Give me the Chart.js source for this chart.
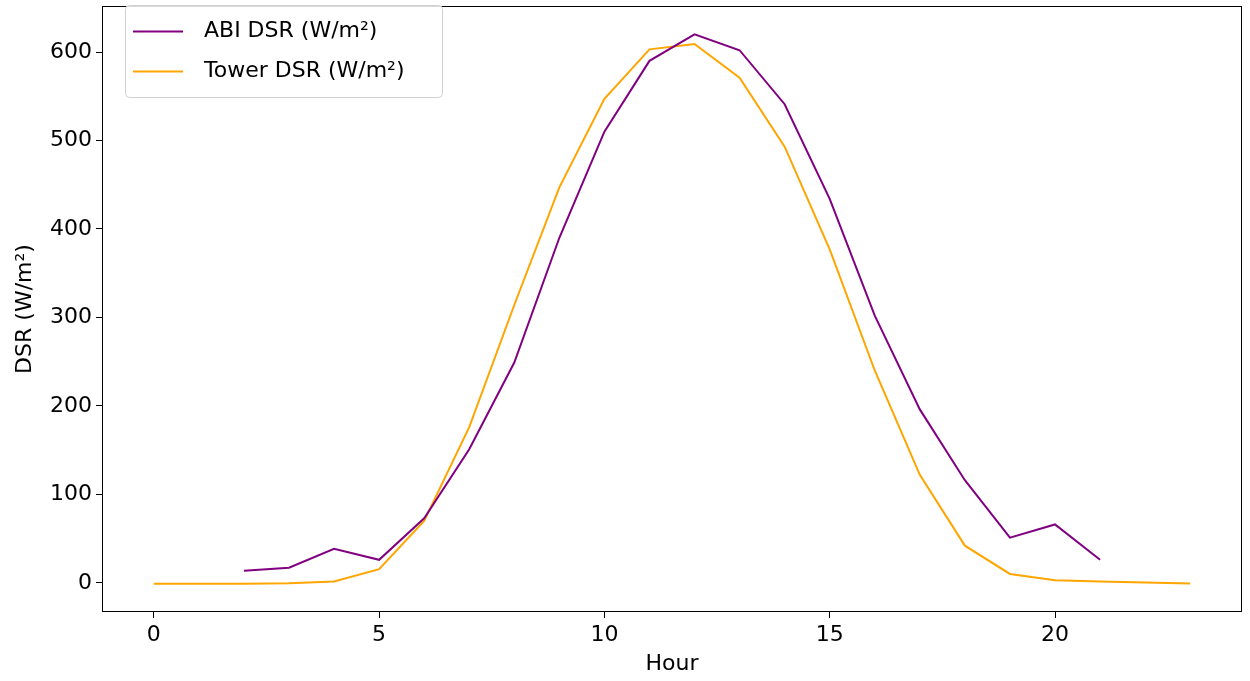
<!DOCTYPE html>
<html>
<head>
<meta charset="utf-8">
<script src="https://cdn.jsdelivr.net/npm/chart.js@4.4.0/dist/chart.umd.min.js"></script>
<style>
html,body{margin:0;padding:0;background:#fff;}
#wrap{width:1250px;height:681px;position:relative;}
</style>
</head>
<body>
<div id="wrap"><canvas id="c"></canvas></div>
<script>
const abiHours = [2,3,4,5,6,7,8,9,10,11,12,13,14,15,16,17,18,19,20,21];
const abiValues = [13.5,17,38.5,26,73,151,249,390,510,590,620,602,541,434,302,196,116,51,66,26];
const towerHours = [0,1,2,3,4,5,6,7,8,9,10,11,12,13,14,15,16,17,18,19,20,21,22,23];
const towerValues = [-1,-1,-1,-0.5,1.5,15.5,70,176,314,447,547,603,609,571,493,377,240,122,42,10,3,1.5,0.4,-0.7];
const xTicks = [0,5,10,15,20];
const yTicks = [0,100,200,300,400,500,600];
const labels = ['ABI DSR (W/m²)','Tower DSR (W/m²)'];
const colors = ['#800080','#FFA500'];

const FONT = 'DejaVu Sans';

const framePlugin = {
  id:'frame',
  afterDraw(chart){
    const {ctx, chartArea:a} = chart;
    ctx.save();
    ctx.strokeStyle = '#000';
    ctx.lineWidth = 1;
    ctx.strokeRect(Math.round(a.left)+0.5, Math.round(a.top)+0.5, Math.round(a.right-a.left)-1, Math.round(a.bottom-a.top)-1);
    // legend
    const x0=125.5, y0=5.5, w=317, h=92, r=4;
    ctx.fillStyle='rgba(255,255,255,0.85)';
    ctx.strokeStyle='#d0d0d0';
    ctx.beginPath();
    ctx.moveTo(x0+r,y0); ctx.lineTo(x0+w-r,y0); ctx.quadraticCurveTo(x0+w,y0,x0+w,y0+r);
    ctx.lineTo(x0+w,y0+h-r); ctx.quadraticCurveTo(x0+w,y0+h,x0+w-r,y0+h);
    ctx.lineTo(x0+r,y0+h); ctx.quadraticCurveTo(x0,y0+h,x0,y0+h-r);
    ctx.lineTo(x0,y0+r); ctx.quadraticCurveTo(x0,y0,x0+r,y0);
    ctx.closePath(); ctx.fill(); ctx.stroke();
    const ys=[31.5,71.5];
    chart.data.datasets.forEach((ds,i)=>{
      ctx.strokeStyle=ds.borderColor; ctx.lineWidth=2;
      ctx.beginPath(); ctx.moveTo(133,ys[i]); ctx.lineTo(183,ys[i]); ctx.stroke();
      ctx.fillStyle='#000'; ctx.font='22px "'+FONT+'"';
      ctx.textBaseline='middle'; ctx.textAlign='left';
      ctx.fillText(ds.label,204,ys[i]);
    });
    ctx.restore();
  }
};

new Chart(document.getElementById('c'),{
  type:'line',
  data:{
    datasets:[
      {label:labels[0], data:abiHours.map((h,i)=>({x:h,y:abiValues[i]})), borderColor:colors[0], backgroundColor:colors[0], borderWidth:2, pointRadius:0, tension:0, fill:false},
      {label:labels[1], data:towerHours.map((h,i)=>({x:h,y:towerValues[i]})), borderColor:colors[1], backgroundColor:colors[1], borderWidth:2, pointRadius:0, tension:0, fill:false}
    ]
  },
  options:{
    responsive:true, maintainAspectRatio:false, animation:false,
    layout:{padding:{top:6,right:8,left:0,bottom:0}},
    plugins:{legend:{display:false}, tooltip:{enabled:false}},
    scales:{
      x:{
        type:'linear', min:-1.15, max:24.15,
        afterBuildTicks(s){ s.ticks = xTicks.map(v=>({value:v})); },
        afterFit(s){ s.height = 69; s.paddingLeft = 0; s.paddingRight = 0; },
        grid:{drawOnChartArea:false, drawTicks:true, tickLength:6, color:'#000'},
        border:{display:false},
        ticks:{color:'#000', font:{family:FONT,size:22}, padding:4, maxRotation:0},
        title:{display:true, text:'Hour', color:'#000', font:{family:FONT,size:22}, padding:{top:0,bottom:4}}
      },
      y:{
        type:'linear', min:-33, max:652,
        afterBuildTicks(s){ s.ticks = yTicks.map(v=>({value:v})); },
        afterFit(s){ s.width = 102; s.paddingTop = 0; s.paddingBottom = 0; },
        grid:{drawOnChartArea:false, drawTicks:true, tickLength:6, color:'#000'},
        border:{display:false},
        ticks:{color:'#000', font:{family:FONT,size:22}, padding:4},
        title:{display:true, text:'DSR (W/m²)', color:'#000', font:{family:FONT,size:22}, padding:{top:12,bottom:6}}
      }
    }
  },
  plugins:[framePlugin]
});
</script>
</body>
</html>
